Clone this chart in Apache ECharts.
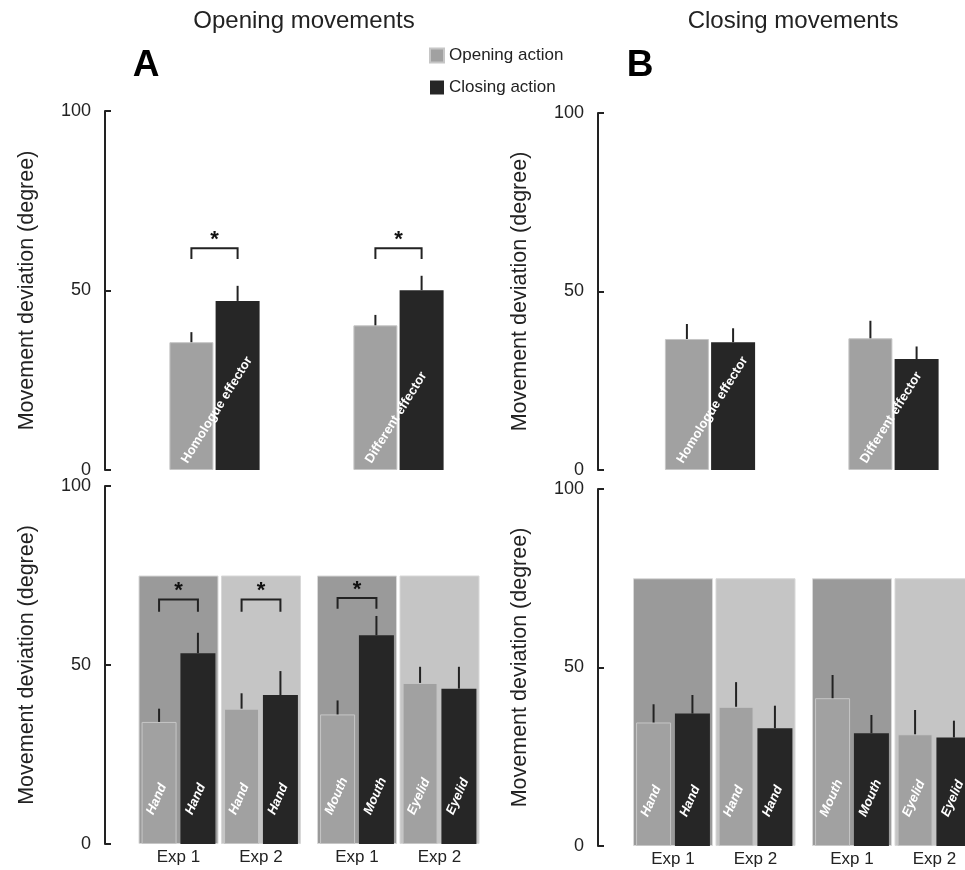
<!DOCTYPE html>
<html>
<head>
<meta charset="utf-8">
<script src="https://cdn.jsdelivr.net/npm/echarts@6/dist/echarts.min.js"></script>
<style>
  html, body { margin: 0; padding: 0; background: #fff; overflow: hidden; }
  /* the right-hand panel runs past the page edge, so the canvas is wider than the window */
  #chart { width: 1000px; height: 870px; }
</style>
</head>
<body>
<div id="chart"></div>
<script>
// ---- Movement deviation (degree): means and standard errors ----

// Top row: effector groups
const effectorGroups = ['Homologue effector', 'Different effector'];

// Opening movements (panel A, top)
const openMovOpenAction  = [35.6, 40.3];
const openMovOpenSE      = [2.8, 2.9];
const openMovCloseAction = [47.1, 50.1];
const openMovCloseSE     = [4.2, 4.0];
const openMovSignificant = [0, 1];          // category indexes with a starred pair

// Closing movements (panel B, top)
const closeMovOpenAction  = [36.7, 36.9];
const closeMovOpenSE      = [4.2, 4.9];
const closeMovCloseAction = [35.8, 31.1];
const closeMovCloseSE     = [3.9, 3.5];
const closeMovSignificant = [];

// Bottom row: experiments, hand pair and face pair
const expLabels = ['Exp 1', 'Exp 2'];
const handOpenEffector  = ['Hand', 'Hand'];
const handCloseEffector = ['Hand', 'Hand'];
const faceOpenEffector  = ['Mouth', 'Eyelid'];
const faceCloseEffector = ['Mouth', 'Eyelid'];

// Opening movements by experiment: [Exp1 hand, Exp2 hand, Exp1 mouth, Exp2 eyelid]
const openExpOpenAction  = [34.1, 37.8, 36.2, 45.0];
const openExpOpenSE      = [3.7, 4.3, 3.9, 4.5];
const openExpCloseAction = [53.3, 41.6, 58.3, 43.4];
const openExpCloseSE     = [5.7, 6.7, 5.4, 6.1];
const openExpSignificant = [0, 1, 2];

// Closing movements by experiment
const closeExpOpenAction  = [34.6, 39.0, 41.4, 31.3];
const closeExpOpenSE      = [5.1, 6.9, 6.5, 6.8];
const closeExpCloseAction = [37.1, 33.0, 31.6, 30.4];
const closeExpCloseSE     = [5.2, 6.3, 5.1, 4.7];
const closeExpSignificant = [];

// Height of the shaded experiment bands
const bandTop = 75;

// ---- styling ----
const FONT = '"Liberation Sans", Arial, Helvetica, sans-serif';
const INK = '#222222';
const GRAY = '#a1a1a1';
const DARK = '#262626';
const BAND_EXP1 = '#9a9a9a';
const BAND_EXP2 = '#c5c5c5';

const option = {
  animation: false,
  textStyle: { fontFamily: FONT },
  grid: [], xAxis: [], yAxis: [], series: [],
  legend: {
    data: ['Opening action', 'Closing action'],
    orient: 'vertical',
    left: 429, top: 47, padding: 0,
    itemWidth: 14, itemHeight: 14, itemGap: 15,
    icon: 'rect',
    selectedMode: false,
    textStyle: { fontSize: 17, color: INK, fontFamily: FONT }
  },
  graphic: [
    { type: 'text', x: 304, y: 21, style: { text: 'Opening movements', fontSize: 24, fontFamily: FONT, fill: INK, textAlign: 'center', textVerticalAlign: 'middle', align: 'center', verticalAlign: 'middle' } },
    { type: 'text', x: 793, y: 21, style: { text: 'Closing movements', fontSize: 24, fontFamily: FONT, fill: INK, textAlign: 'center', textVerticalAlign: 'middle', align: 'center', verticalAlign: 'middle' } },
    { type: 'text', x: 146, y: 66, style: { text: 'A', fontSize: 37, fontWeight: 'bold', fontFamily: FONT, fill: '#000', textAlign: 'center', textVerticalAlign: 'middle', align: 'center', verticalAlign: 'middle' } },
    { type: 'text', x: 640, y: 66, style: { text: 'B', fontSize: 37, fontWeight: 'bold', fontFamily: FONT, fill: '#000', textAlign: 'center', textVerticalAlign: 'middle', align: 'center', verticalAlign: 'middle' } }
  ]
};

// vertical error bar from the bar top up by one standard error
function errorSeries(xi, yi, means, ses, shift) {
  return {
    type: 'custom', xAxisIndex: xi, yAxisIndex: yi, z: 3, silent: true,
    encode: { x: 0, y: [1, 2] },
    data: means.map((m, i) => [i, m, m + ses[i]]),
    renderItem: (params, api) => {
      const i = api.value(0);
      const a = api.coord([i, api.value(1)]);
      const b = api.coord([i, api.value(2)]);
      const x = a[0] + shift;
      return { type: 'line', shape: { x1: x, y1: a[1], x2: x, y2: b[1] },
               style: { stroke: INK, lineWidth: 2 } };
    }
  };
}

// bracket with asterisk joining the two bars of a category
function bracketSeries(xi, yi, idx, shift, level, leg, starAt) {
  return {
    type: 'custom', xAxisIndex: xi, yAxisIndex: yi, z: 4, silent: true,
    encode: { x: 0, y: 1 },
    data: idx.map(i => [i, level]),
    renderItem: (params, api) => {
      const i = api.value(0);
      const top = api.coord([i, level]);
      const low = api.coord([i, level - leg]);
      const star = api.coord([i, starAt]);
      const xl = top[0] - shift, xr = top[0] + shift;
      return {
        type: 'group',
        children: [
          { type: 'polyline',
            shape: { points: [[xl, low[1]], [xl, top[1]], [xr, top[1]], [xr, low[1]]] },
            style: { stroke: INK, lineWidth: 2, fill: null } },
          { type: 'text', x: top[0], y: star[1],
            style: { text: '*', fontSize: 22, fontWeight: 'bold', fontFamily: FONT, fill: '#111',
                     align: 'center', verticalAlign: 'middle' } }
        ]
      };
    }
  };
}

// rotated white effector names written up from the foot of a bar
function labelSeries(xi, yi, texts, shift, dx, lift, angle, italic) {
  return {
    type: 'custom', xAxisIndex: xi, yAxisIndex: yi, z: 5, silent: true,
    encode: { x: 0, y: 1 },
    data: texts.map((t, i) => [i, 0]),
    renderItem: (params, api) => {
      const i = api.value(0);
      const p = api.coord([i, 0]);
      return {
        type: 'text', x: p[0] + shift + dx, y: p[1] - lift,
        rotation: angle * Math.PI / 180,
        style: { text: texts[i], fill: '#ffffff', fontSize: 13, fontWeight: 'bold',
                 fontStyle: italic ? 'italic' : 'normal', fontFamily: FONT,
                 align: 'left', verticalAlign: 'middle' }
      };
    }
  };
}

function panel(cfg) {
  const gi = option.grid.length;
  option.grid.push({ left: cfg.left, top: cfg.top, width: cfg.width, height: cfg.height });

  const xi = option.xAxis.length;
  option.xAxis.push({
    type: 'category', gridIndex: gi, data: cfg.cats,
    axisLine: { show: false }, axisTick: { show: false }, splitLine: { show: false },
    axisLabel: { show: !!cfg.showCats, fontSize: 17, color: INK, margin: 5, fontFamily: FONT }
  });

  const yi = option.yAxis.length;
  const showY = cfg.showY !== false;
  option.yAxis.push({
    type: 'value', gridIndex: gi, min: 0, max: 100, interval: 50,
    show: showY, offset: cfg.yOffset || 0,
    axisLine: { show: true, lineStyle: { color: INK, width: 2 } },
    axisTick: { show: true, inside: true, length: 6, lineStyle: { color: INK, width: 2 } },
    axisLabel: { fontSize: 18, color: INK, margin: 14, fontFamily: FONT },
    splitLine: { show: false },
    name: showY ? 'Movement deviation (degree)' : '',
    nameLocation: 'middle', nameGap: 67,
    nameTextStyle: { fontSize: 21.5, color: INK, fontFamily: FONT }
  });

  if (cfg.bands) {
    const bx = option.xAxis.length;
    option.xAxis.push({ type: 'category', gridIndex: gi, data: cfg.cats, show: false });
    option.series.push({
      type: 'bar', xAxisIndex: bx, yAxisIndex: yi, barWidth: 80, z: 1, silent: true,
      itemStyle: { borderColor: '#d8d8d8', borderWidth: 1 },
      data: cfg.cats.map((c, i) => ({ value: bandTop, itemStyle: { color: cfg.bands[i] } }))
    });
  }

  const gapFrac = cfg.barGap;
  const shift = cfg.barWidth * (1 + gapFrac) / 2;
  const barGap = Math.round(gapFrac * 100) + '%';

  option.series.push({
    name: 'Opening action', type: 'bar', xAxisIndex: xi, yAxisIndex: yi, z: 2,
    barWidth: cfg.barWidth, barGap: barGap,
    itemStyle: { color: GRAY, borderColor: '#c6c6c6', borderWidth: 1 },
    data: cfg.open
  });
  option.series.push({
    name: 'Closing action', type: 'bar', xAxisIndex: xi, yAxisIndex: yi, z: 2,
    barWidth: cfg.barWidth, barGap: barGap,
    itemStyle: { color: DARK },
    data: cfg.close
  });

  option.series.push(errorSeries(xi, yi, cfg.open, cfg.openSE, -shift));
  option.series.push(errorSeries(xi, yi, cfg.close, cfg.closeSE, shift));

  if (cfg.sig && cfg.sig.length) {
    option.series.push(bracketSeries(xi, yi, cfg.sig, shift, cfg.bracket[0], cfg.bracket[1], cfg.bracket[2]));
  }

  if (cfg.groupLabels) {
    option.series.push(labelSeries(xi, yi, cfg.groupLabels, -shift, -7, 8, 58, false));
  }
  if (cfg.openLabels) {
    option.series.push(labelSeries(xi, yi, cfg.openLabels, -shift, -9, 30, 66, true));
    option.series.push(labelSeries(xi, yi, cfg.closeLabels, shift, -9, 30, 66, true));
  }
}

// Panel A, top
panel({
  left: 122.5, top: 111, width: 368, height: 359, yOffset: 17.5,
  cats: effectorGroups, barWidth: 44, barGap: 0.05,
  open: openMovOpenAction, openSE: openMovOpenSE,
  close: openMovCloseAction, closeSE: openMovCloseSE,
  sig: openMovSignificant, bracket: [61.8, 3.0, 64.0],
  groupLabels: effectorGroups
});

// Panel B, top
panel({
  left: 618.25, top: 113, width: 367, height: 357, yOffset: 20.25,
  cats: effectorGroups, barWidth: 44, barGap: 0.05,
  open: closeMovOpenAction, openSE: closeMovOpenSE,
  close: closeMovCloseAction, closeSE: closeMovCloseSE,
  sig: closeMovSignificant,
  groupLabels: effectorGroups
});

// Panel A, bottom: hand pair then face pair
panel({
  left: 137.25, top: 486, width: 165, height: 358, yOffset: 32.25,
  cats: expLabels, showCats: true, bands: [BAND_EXP1, BAND_EXP2],
  barWidth: 35, barGap: 0.11,
  open: openExpOpenAction.slice(0, 2), openSE: openExpOpenSE.slice(0, 2),
  close: openExpCloseAction.slice(0, 2), closeSE: openExpCloseSE.slice(0, 2),
  sig: openExpSignificant.filter(i => i < 2), bracket: [68.3, 3.4, 70.6],
  openLabels: handOpenEffector, closeLabels: handCloseEffector
});
panel({
  left: 315.75, top: 486, width: 165, height: 358, showY: false,
  cats: expLabels, showCats: true, bands: [BAND_EXP1, BAND_EXP2],
  barWidth: 35, barGap: 0.11,
  open: openExpOpenAction.slice(2), openSE: openExpOpenSE.slice(2),
  close: openExpCloseAction.slice(2), closeSE: openExpCloseSE.slice(2),
  sig: openExpSignificant.filter(i => i >= 2).map(i => i - 2), bracket: [68.7, 3.0, 71.0],
  openLabels: faceOpenEffector, closeLabels: faceCloseEffector
});

// Panel B, bottom
panel({
  left: 631.75, top: 489, width: 165, height: 357, yOffset: 33.75,
  cats: expLabels, showCats: true, bands: [BAND_EXP1, BAND_EXP2],
  barWidth: 35, barGap: 0.11,
  open: closeExpOpenAction.slice(0, 2), openSE: closeExpOpenSE.slice(0, 2),
  close: closeExpCloseAction.slice(0, 2), closeSE: closeExpCloseSE.slice(0, 2),
  sig: closeExpSignificant.filter(i => i < 2),
  openLabels: handOpenEffector, closeLabels: handCloseEffector
});
panel({
  left: 810.75, top: 489, width: 165, height: 357, showY: false,
  cats: expLabels, showCats: true, bands: [BAND_EXP1, BAND_EXP2],
  barWidth: 35, barGap: 0.11,
  open: closeExpOpenAction.slice(2), openSE: closeExpOpenSE.slice(2),
  close: closeExpCloseAction.slice(2), closeSE: closeExpCloseSE.slice(2),
  sig: closeExpSignificant.filter(i => i >= 2).map(i => i - 2),
  openLabels: faceOpenEffector, closeLabels: faceCloseEffector
});

const chart = echarts.init(document.getElementById('chart'), null, { renderer: 'canvas' });
chart.setOption(option);
</script>
</body>
</html>
